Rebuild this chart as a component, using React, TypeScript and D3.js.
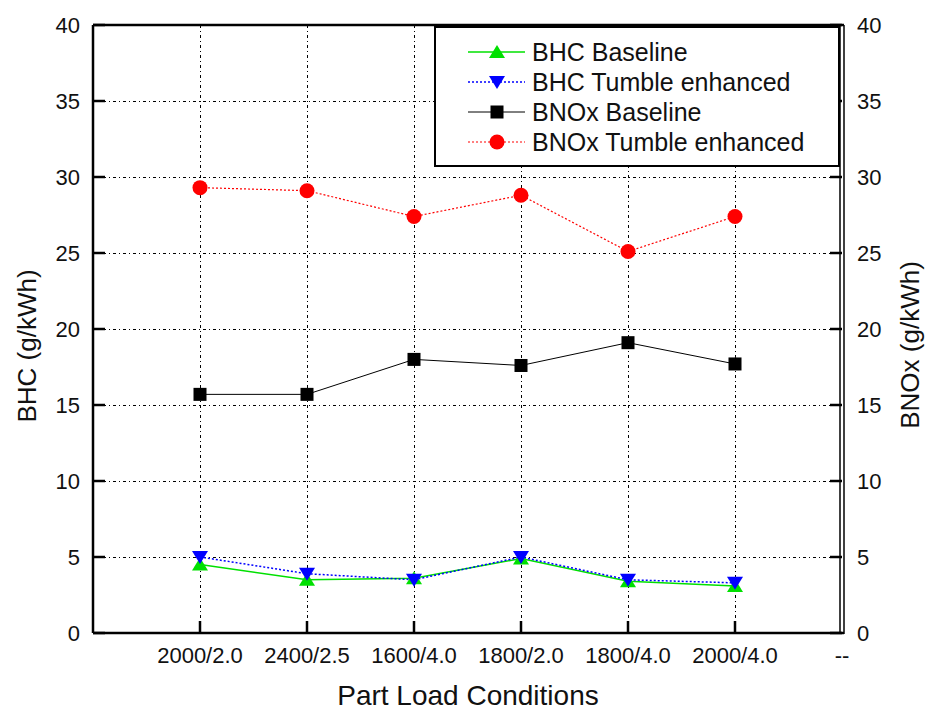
import React from "react";
import * as d3 from "d3";

const categories = ["2000/2.0", "2400/2.5", "1600/4.0", "1800/2.0", "1800/4.0", "2000/4.0", "--"];
const bhcBaseline = [4.5, 3.5, 3.6, 4.9, 3.4, 3.1];
const bhcTumble = [5.0, 3.9, 3.5, 5.0, 3.5, 3.3];
const bnoxBaseline = [15.7, 15.7, 18.0, 17.6, 19.1, 17.7];
const bnoxTumble = [29.3, 29.1, 27.4, 28.8, 25.1, 27.4];
const yTicks = [0, 5, 10, 15, 20, 25, 30, 35, 40];

const W = 925, H = 710;
const L = 93, R = 842, T = 25, B = 633;
const FONT = "Liberation Sans, Arial, sans-serif";

type Series = { name: string; values: number[]; color: string; dash: string; width: number; marker: string };
const series: Series[] = [
  { name: "BHC Baseline", values: bhcBaseline, color: "#00e000", dash: "", width: 1.5, marker: "up" },
  { name: "BHC Tumble enhanced", values: bhcTumble, color: "#0000ff", dash: "2,2", width: 1.5, marker: "down" },
  { name: "BNOx Baseline", values: bnoxBaseline, color: "#000000", dash: "", width: 1, marker: "square" },
  { name: "BNOx Tumble enhanced", values: bnoxTumble, color: "#ff0000", dash: "2,2", width: 1.2, marker: "circle" },
];

function Marker({ type, x, y, color }: { type: string; x: number; y: number; color: string }) {
  if (type === "up") return <path d={`M${x},${y - 7}L${x + 8},${y + 6}L${x - 8},${y + 6}Z`} fill={color} />;
  if (type === "down") return <path d={`M${x},${y + 7}L${x + 8},${y - 6}L${x - 8},${y - 6}Z`} fill={color} />;
  if (type === "square") return <rect x={x - 6.5} y={y - 6.5} width={13} height={13} fill={color} />;
  return <circle cx={x} cy={y} r={7.5} fill={color} />;
}

export default function App() {
  const x = d3.scaleLinear().domain([0, 7]).range([L, R]);
  const y = d3.scaleLinear().domain([0, 40]).range([B, T]);
  const line = d3.line<number>().x((_, i) => x(i + 1)).y((d) => y(d));
  const grid = "3,3,1,3";
  const px = (v: number) => Math.round(v) + 0.5;
  return (
    <svg width={W} height={H} style={{ position: "absolute", left: 0, top: 0, background: "#fff" }} fontFamily={FONT}>
      <rect width={W} height={H} fill="#fff" />
      {/* grid */}
      {yTicks.filter((t) => t > 0 && t < 40).map((t) => (
        <line key={"h" + t} x1={L} x2={R} y1={px(y(t))} y2={px(y(t))} stroke="#000" strokeWidth={1} strokeDasharray={grid} shapeRendering="crispEdges" />
      ))}
      {categories.slice(0, 6).map((c, i) => (
        <line key={"v" + c} x1={px(x(i + 1))} x2={px(x(i + 1))} y1={T} y2={B} stroke="#000" strokeWidth={1} strokeDasharray={grid} shapeRendering="crispEdges" />
      ))}
      {/* series lines */}
      {series.map((s) => (
        <path key={s.name} d={line(s.values) || ""} fill="none" stroke={s.color} strokeWidth={s.width} strokeDasharray={s.dash} />
      ))}
      {series.map((s) =>
        s.values.map((v, i) => <Marker key={s.name + i} type={s.marker} x={x(i + 1)} y={y(v)} color={s.color} />)
      )}
      {/* axes frame */}
      <line x1={L} x2={R + 2} y1={T} y2={T} stroke="#000" strokeWidth={2.5} />
      <line x1={L} x2={R + 2} y1={B} y2={B} stroke="#000" strokeWidth={2.5} />
      <line x1={L} x2={L} y1={T} y2={B} stroke="#000" strokeWidth={2.5} />
      <line x1={R - 2} x2={R - 2} y1={T} y2={B} stroke="#000" strokeWidth={1.5} />
      <line x1={R + 2} x2={R + 2} y1={T} y2={B + 1} stroke="#000" strokeWidth={1.5} />
      {/* ticks */}
      {yTicks.map((t) => (
        <g key={"t" + t}>
          <line x1={L} x2={L + 12} y1={y(t)} y2={y(t)} stroke="#000" strokeWidth={2.5} />
          <line x1={R - 12} x2={R} y1={y(t)} y2={y(t)} stroke="#000" strokeWidth={2.5} />
          <text x={L - 13} y={y(t)} dy="0.35em" textAnchor="end" fontSize={22} fill="#111">{t}</text>
          <text x={R + 15} y={y(t)} dy="0.35em" textAnchor="start" fontSize={22} fill="#111">{t}</text>
        </g>
      ))}
      {categories.map((c, i) => (
        <g key={"c" + c}>
          {i < 6 && <line x1={x(i + 1)} x2={x(i + 1)} y1={B} y2={B - 12} stroke="#000" strokeWidth={2.5} />}
          <text x={x(i + 1)} y={663} textAnchor="middle" fontSize={22} fill="#111">{c}</text>
        </g>
      ))}
      {/* titles */}
      <text x={468} y={705} textAnchor="middle" fontSize={28} fill="#111">Part Load Conditions</text>
      <text transform={`translate(36,346) rotate(-90)`} textAnchor="middle" fontSize={26} fill="#111">BHC (g/kWh)</text>
      <text transform={`translate(919,345) rotate(-90)`} textAnchor="middle" fontSize={26} fill="#111">BNOx (g/kWh)</text>
      {/* legend */}
      <rect x={435} y={27} width={404} height={139} fill="#fff" stroke="#000" strokeWidth={2} />
      {series.map((s, i) => {
        const ly = 52 + i * 30;
        return (
          <g key={"lg" + s.name}>
            <line x1={468} x2={525} y1={ly} y2={ly} stroke={s.color} strokeWidth={s.width} strokeDasharray={s.dash} />
            <Marker type={s.marker} x={497} y={ly} color={s.color} />
            <text x={532} y={ly} dy="0.36em" fontSize={25} fill="#111">{s.name}</text>
          </g>
        );
      })}
    </svg>
  );
}
